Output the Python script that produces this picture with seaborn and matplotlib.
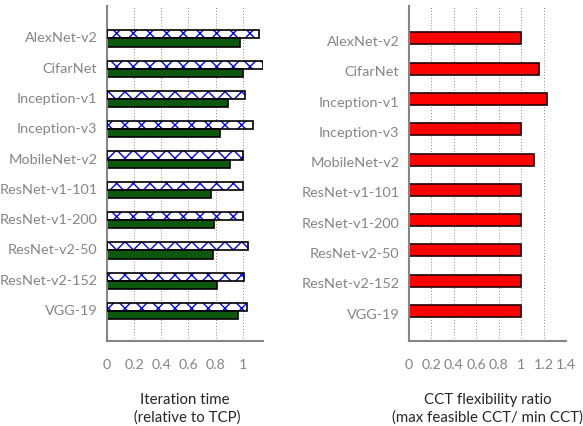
import matplotlib
matplotlib.use("Agg")
import matplotlib.pyplot as plt
from matplotlib.patches import Rectangle
import seaborn as sns
import pandas as pd

# data
models = ["AlexNet-v2", "CifarNet", "Inception-v1", "Inception-v3", "MobileNet-v2",
          "ResNet-v1-101", "ResNet-v1-200", "ResNet-v2-50", "ResNet-v2-152", "VGG-19"]
iter_hatched = [1.12, 1.15, 1.015, 1.075, 1.005, 1.0, 1.0, 1.037, 1.01, 1.03]
iter_green = [0.983, 1.0, 0.89, 0.833, 0.904, 0.767, 0.79, 0.78, 0.81, 0.968]
cct_ratio = [1.0, 1.158, 1.235, 1.0, 1.113, 1.0, 1.0, 1.0, 1.0, 1.0]

left_ticks = [0, 0.2, 0.4, 0.6, 0.8, 1.0]
left_ticklabels = ["0", "0.2", "0.4", "0.6", "0.8", "1"]
right_ticks = [0, 0.2, 0.4, 0.6, 0.8, 1.0, 1.2, 1.4]
right_ticklabels = ["0", "0.2", "0.4", "0.6", "0.8", "1", "1.2", "1.4"]

sns.set_style("white")
plt.rcParams["font.family"] = ["Lato", "DejaVu Sans"]
plt.rcParams["hatch.linewidth"] = 1.0

GRAY = "#858585"

df_left = pd.DataFrame({
    "model": models * 2,
    "value": iter_hatched + iter_green,
    "kind": ["tcp"] * len(models) + ["green"] * len(models),
})
df_right = pd.DataFrame({"model": models, "value": cct_ratio})

fig = plt.figure(figsize=(5.83, 4.27), dpi=100)
ax1 = fig.add_axes([107 / 583, 1 - 342 / 427, 156 / 583, 335 / 427])
ax2 = fig.add_axes([409 / 583, 1 - 342 / 427, 157 / 583, 335 / 427])

# left panel: hatched white + green bars
sns.barplot(data=df_left, x="value", y="model", hue="kind", orient="h",
            palette={"tcp": "white", "green": "#006400"}, width=0.54,
            dodge=True, legend=False, ax=ax1, edgecolor="black", linewidth=1.2)
n = len(models)
for p in ax1.patches[:n]:
    p.set_hatch("xx")
    p.set_edgecolor("blue")
    p.set_linewidth(0)
    ax1.add_patch(Rectangle(p.get_xy(), p.get_width(), p.get_height(),
                            fill=False, edgecolor="black", linewidth=1.2, zorder=3))

# right panel: red bars
sns.barplot(data=df_right, x="value", y="model", orient="h", color="red",
            saturation=1, width=0.4, ax=ax2, edgecolor="#200000", linewidth=1.2)

for ax, ticks, labels, xmax in [(ax1, left_ticks, left_ticklabels, 1.15),
                                (ax2, right_ticks, right_ticklabels, 1.4)]:
    ax.set_xlim(0, xmax)
    ax.set_xticks(ticks)
    ax.set_xticklabels(labels)
    ax.set_ylim(9.99, -1.07)
    for t in ticks[1:]:
        ax.axvline(t, color=GRAY, linestyle=(0, (1, 2)), linewidth=0.7, zorder=0)
    sns.despine(ax=ax, top=True, right=True)
    for s in ["left", "bottom"]:
        ax.spines[s].set_color(GRAY)
        ax.spines[s].set_linewidth(1.5)
    ax.tick_params(axis="x", direction="in", length=6, color=GRAY, width=1,
                   pad=12, labelsize=10.3, labelcolor=GRAY)
    ax.tick_params(axis="y", length=0, pad=7, labelsize=10.4, labelcolor=GRAY)
    ax.set_ylabel("")

# shift labels a little relative to the bar clusters
ax1.set_yticks([i - 0.066 for i in range(n)])
ax1.set_yticklabels(models)
ax2.set_yticks([i + 0.05 for i in range(n)])
ax2.set_yticklabels(models)

ax1.set_xlabel("Iteration time\n (relative to TCP)", fontsize=10.8, labelpad=16,
               linespacing=1.3)
ax2.set_xlabel("CCT flexibility ratio\n(max feasible CCT/ min CCT)", fontsize=10.8,
               labelpad=16, linespacing=1.3)

fig.savefig("out.png", dpi=100)
